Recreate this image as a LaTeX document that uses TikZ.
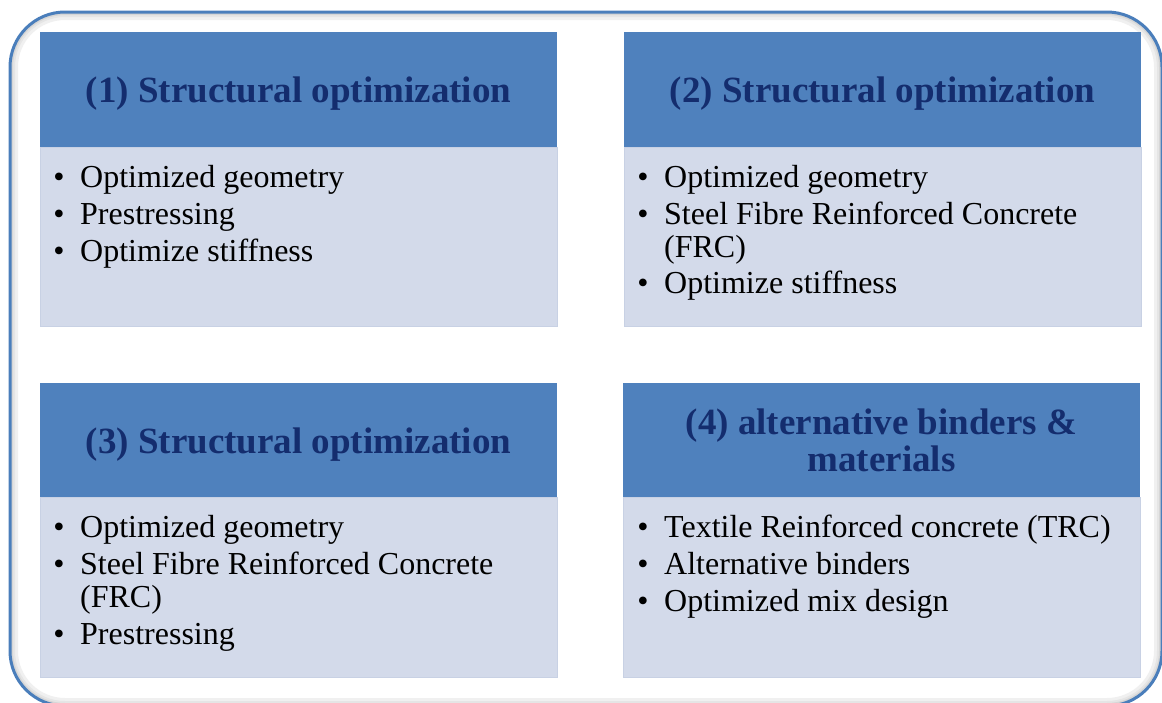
\documentclass[tikz,border=0pt]{standalone}
\usepackage{fontspec}
\setmainfont{Liberation Serif}
\definecolor{hdr}{HTML}{4F81BD}
\definecolor{bodyc}{HTML}{D3DAEA}
\definecolor{bodyline}{HTML}{C8D1E4}
\definecolor{hdrtext}{HTML}{142D6E}
\definecolor{frame}{HTML}{4A7EBB}
\tikzset{
  x=1pt, y=-1pt,
  hdrbox/.style={fill=hdr, draw=none},
  bodybox/.style={fill=bodyc, draw=bodyline, line width=1pt},
  htext/.style={font=\fontsize{37}{37}\selectfont\bfseries, text=hdrtext, inner sep=0pt, anchor=base},
  itext/.style={font=\fontsize{32}{37}\selectfont, text=black, inner sep=0pt, anchor=base west},
  bul/.style={font=\fontsize{32}{37}\selectfont, text=black, inner sep=0pt, anchor=base},
}
\begin{document}
\begin{tikzpicture}
\useasboundingbox (0,0) rectangle (1162,702);
\fill[white] (0,0) rectangle (1162,702);
% outer frame with inner shadow
\begin{scope}
  \clip[rounded corners=55pt] (10,12) rectangle (1162,706);
  \draw[black!6, line width=16pt, rounded corners=55pt] (10,12) rectangle (1162,706);
  \draw[black!10, line width=10pt, rounded corners=55pt] (10,12) rectangle (1162,706);
  \draw[black!16, line width=6pt, rounded corners=55pt] (10,12) rectangle (1162,706);
\end{scope}
\draw[frame, line width=3pt, rounded corners=55pt] (10,12) rectangle (1162,706);

% Box 1
\path[bodybox] (40,147) rectangle (557,326);
\path[hdrbox] (40,32) rectangle (557,147);
\node[htext] (h1) at (298.5,102) {(1) Structural optimization};
\node[bul] (b1a) at (59,187) {•};
\node[itext] (t1a) at (80,187) {Optimized geometry};
\node[bul] (b1b) at (59,224) {•};
\node[itext] (t1b) at (80,224) {Prestressing};
\node[bul] (b1c) at (59,261) {•};
\node[itext] (t1c) at (80,261) {Optimize stiffness};

% Box 2
\path[bodybox] (624,147) rectangle (1141,326);
\path[hdrbox] (624,32) rectangle (1141,147);
\node[htext] (h2) at (882.5,102) {(2) Structural optimization};
\node[bul] (b2a) at (643,187) {•};
\node[itext] (t2a) at (664,187) {Optimized geometry};
\node[bul] (b2b) at (643,224) {•};
\node[itext] (t2b) at (664,224) {Steel Fibre Reinforced Concrete};
\node[itext] (t2c) at (664,257) {(FRC)};
\node[bul] (b2d) at (643,293) {•};
\node[itext] (t2d) at (664,293) {Optimize stiffness};

% Box 3
\path[bodybox] (40,497) rectangle (557,677);
\path[hdrbox] (40,383) rectangle (557,497);
\node[htext] (h3) at (298.5,453) {(3) Structural optimization};
\node[bul] (b3a) at (59,537) {•};
\node[itext] (t3a) at (80,537) {Optimized geometry};
\node[bul] (b3b) at (59,574) {•};
\node[itext] (t3b) at (80,574) {Steel Fibre Reinforced Concrete};
\node[itext] (t3c) at (80,607) {(FRC)};
\node[bul] (b3d) at (59,644) {•};
\node[itext] (t3d) at (80,644) {Prestressing};

% Box 4
\path[bodybox] (623,497) rectangle (1140,677);
\path[hdrbox] (623,383) rectangle (1140,497);
\node[htext] (h4a) at (881.5,434) {(4) alternative binders \&};
\node[htext] (h4b) at (881.5,471) {materials};
\node[bul] (b4a) at (643,537) {•};
\node[itext] (t4a) at (664,537) {Textile Reinforced concrete (TRC)};
\node[bul] (b4b) at (643,574) {•};
\node[itext] (t4b) at (664,574) {Alternative binders};
\node[bul] (b4c) at (643,611) {•};
\node[itext] (t4c) at (664,611) {Optimized mix design};
\end{tikzpicture}
\end{document}
